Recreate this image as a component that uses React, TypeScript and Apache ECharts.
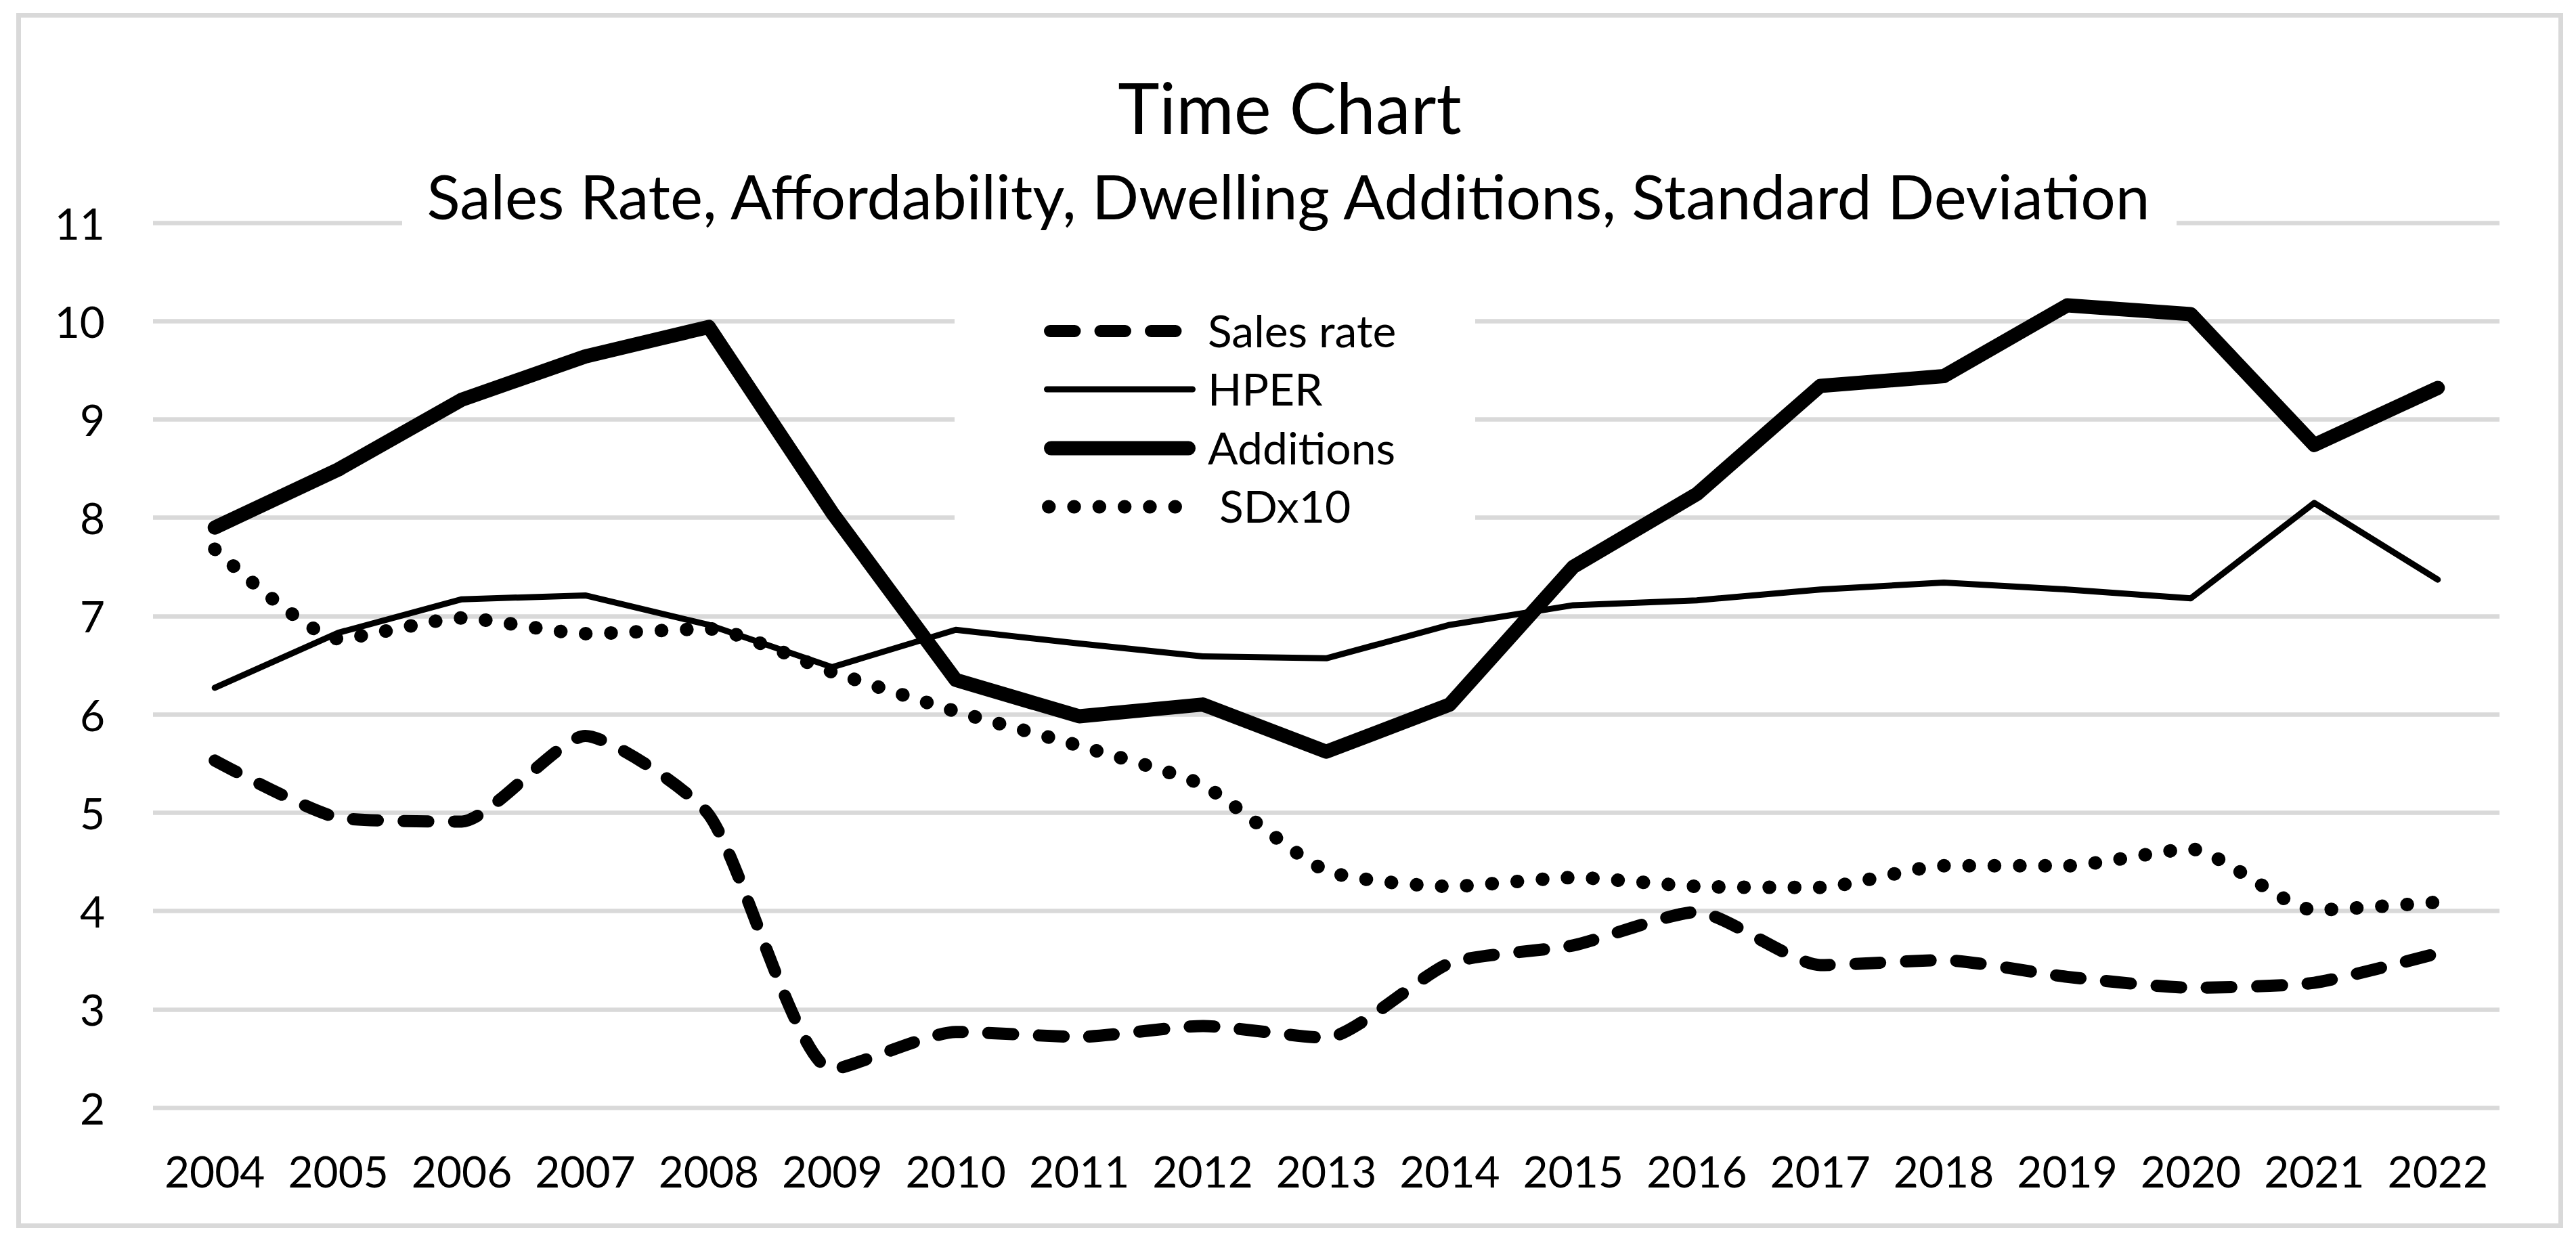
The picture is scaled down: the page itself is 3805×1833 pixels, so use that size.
import React, { useEffect, useRef } from "react";
import * as echarts from "echarts";

const categories = ["2004", "2005", "2006", "2007", "2008", "2009", "2010", "2011", "2012", "2013", "2014", "2015", "2016", "2017", "2018", "2019", "2020", "2021", "2022"];
const salesRate = [5.53, 4.95, 4.91, 5.78, 4.98, 2.39, 2.77, 2.72, 2.83, 2.71, 3.47, 3.65, 3.99, 3.45, 3.5, 3.33, 3.22, 3.27, 3.57];
const hper = [6.27, 6.83, 7.17, 7.21, 6.91, 6.48, 6.86, 6.72, 6.59, 6.57, 6.91, 7.11, 7.16, 7.27, 7.34, 7.27, 7.18, 8.15, 7.37];
const additions = [7.9, 8.49, 9.2, 9.64, 9.94, 8.05, 6.35, 5.98, 6.1, 5.62, 6.1, 7.5, 8.24, 9.34, 9.44, 10.16, 10.07, 8.74, 9.32];
const sdx10 = [7.68, 6.77, 6.98, 6.82, 6.87, 6.43, 6.03, 5.68, 5.28, 4.41, 4.25, 4.34, 4.25, 4.24, 4.46, 4.46, 4.63, 4.01, 4.09];
const seriesNames = ["Sales rate", "HPER", "Additions", " SDx10"];
const titleText = "Time Chart";
const subtitleText = "Sales Rate, Affordability, Dwelling Additions, Standard Deviation";

const FONT = "Lato";

const styles = [
  { width: 18, dash: [36.5, 38] as number[] | null, cap: "round", smooth: 0.2 as number | boolean },
  { width: 9, dash: null, cap: "round", smooth: false as number | boolean },
  { width: 21, dash: null, cap: "round", smooth: false as number | boolean },
  { width: 20, dash: [0.5, 36.8] as number[] | null, cap: "round", smooth: 0.2 as number | boolean },
];

export default function App() {
  const ref = useRef<HTMLDivElement>(null);
  useEffect(() => {
    if (!ref.current) return;
    const chart = echarts.init(ref.current, null, { renderer: "svg" });
    const data = [salesRate, hper, additions, sdx10];

    const legendRowsY = [489, 575, 662, 748.5];
    const legendGraphics: any[] = [];
    seriesNames.forEach((name, i) => {
      const s = styles[i];
      const y = legendRowsY[i];
      let x1 = 1542 + s.width / 2;
      let x2 = 1766 - s.width / 2;
      if (i === 3) {
        x1 = 1549;
        x2 = 1740;
      }
      legendGraphics.push({
        type: "line",
        z: 10,
        shape: { x1, y1: y, x2, y2: y },
        style: {
          stroke: "#000",
          lineWidth: s.width,
          lineCap: s.cap,
          lineDash: s.dash || undefined,
        },
      });
      legendGraphics.push({
        type: "text",
        z: 10,
        x: 1784,
        y: y - 2,
        style: {
          text: name,
          fill: "#000",
          font: `66px ${FONT}`,
          textAlign: "left",
          textVerticalAlign: "middle",
        },
      });
    });

    const option: any = {
      animation: false,
      backgroundColor: "#ffffff",
      grid: { left: 226, right: 113, top: 329, bottom: 197, containLabel: false },
      xAxis: {
        type: "category",
        data: categories,
        boundaryGap: true,
        axisLine: { show: false },
        axisTick: { show: false },
        axisLabel: { fontFamily: FONT, fontSize: 64, color: "#000", margin: 61, interval: 0 },
        splitLine: { show: false },
      },
      yAxis: {
        type: "value",
        min: 2,
        max: 11,
        interval: 1,
        axisLine: { show: false },
        axisTick: { show: false },
        axisLabel: { fontFamily: FONT, fontSize: 64, color: "#000", margin: 71 },
        splitLine: { show: true, lineStyle: { color: "#d9d9d9", width: 6.5 } },
      },
      series: data.map((d, i) => ({
        name: seriesNames[i],
        type: "line",
        data: d,
        symbol: "none",
        smooth: styles[i].smooth,
        z: 2 + i,
        lineStyle: {
          color: "#000",
          width: styles[i].width,
          type: styles[i].dash || "solid",
          cap: styles[i].cap,
          join: "round",
        },
        emphasis: { disabled: true },
      })),
      graphic: [
        {
          type: "rect",
          z: 0,
          shape: { x: 27.5, y: 22.5, width: 3755, height: 1788 },
          style: { fill: "none", stroke: "#d9d9d9", lineWidth: 7 },
        },
        {
          type: "rect",
          z: 1,
          shape: { x: 594, y: 250, width: 2621, height: 90 },
          style: { fill: "#ffffff" },
        },
        {
          type: "rect",
          z: 1,
          shape: { x: 1410, y: 425, width: 769, height: 380 },
          style: { fill: "#ffffff" },
        },
        {
          type: "text",
          z: 10,
          x: 1905,
          y: 157,
          style: {
            text: titleText,
            fill: "#000",
            font: `104px ${FONT}`,
            textAlign: "center",
            textVerticalAlign: "middle",
          },
        },
        {
          type: "text",
          z: 10,
          x: 1903,
          y: 288,
          style: {
            text: subtitleText,
            fill: "#000",
            font: `91px ${FONT}`,
            textAlign: "center",
            textVerticalAlign: "middle",
          },
        },
        ...legendGraphics,
      ],
    };
    chart.setOption(option);
    return () => chart.dispose();
  }, []);

  return (
    <div
      ref={ref}
      style={{ position: "absolute", left: 0, top: 0, width: "3805px", height: "1833px", background: "#fff" }}
    />
  );
}
